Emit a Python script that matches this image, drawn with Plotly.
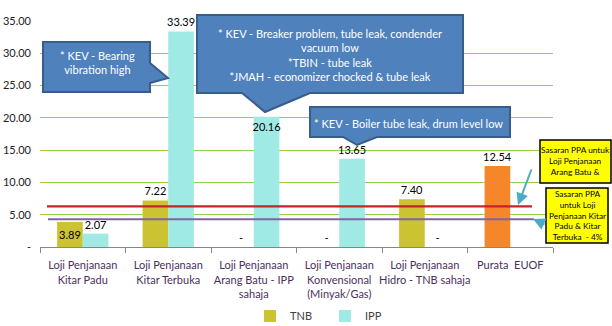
import plotly.graph_objects as go

categories = [
    "Loji Penjanaan<br>Kitar Padu",
    "Loji Penjanaan<br>Kitar Terbuka",
    "Loji Penjanaan<br>Arang Batu - IPP<br>sahaja",
    "Loji Penjanaan<br>Konvensional<br>(Minyak/Gas)",
    "Loji Penjanaan<br>Hidro - TNB sahaja",
    "Purata  EUOF",
]
tnb_values = [3.89, 7.22, 0.0, 0.0, 7.40, 12.54]
ipp_values = [2.07, 33.39, 20.16, 13.65, 0.0, None]
target_values = [6.3, 4.3]          # red (Arang Batu), purple (Kitar Padu & Kitar Terbuka)
y_tick_values = [0, 5, 10, 15, 20, 25, 30, 35]

FONT = "Lato, Carlito, Calibri, sans-serif"
TNB_COL = "#CBC331"
IPP_COL = "#A0EAE6"
AVG_COL = "#F5862A"

def lab(v):
    if v is None:
        return ""
    return "-" if v == 0 else f"{v:.2f}"

W, H = 612, 326
L, R, T, B = 40, 59, 21, 79
PW, PH = W - L - R, H - T - B

def px(x):
    return (x - L) / PW

def py(y):
    return (H - B - y) / PH

def path(pts):
    return "M " + " L ".join(f"{px(x):.4f},{py(y):.4f}" for x, y in pts) + " Z"

tnb_colors = [TNB_COL] * (len(categories) - 1) + [AVG_COL]

fig = go.Figure()
fig.add_trace(go.Bar(
    name="TNB", x=categories, y=tnb_values,
    marker=dict(color=tnb_colors, line=dict(width=0)),
    text=[lab(v) for v in tnb_values],
    textposition=["inside", "outside", "outside", "outside", "outside", "outside"],
    insidetextanchor="middle", constraintext="none", textangle=0,
    textfont=dict(family=FONT, size=11, color="#000000"),
    cliponaxis=False,
))
fig.add_trace(go.Bar(
    name="IPP", x=categories, y=ipp_values,
    marker=dict(color=IPP_COL, line=dict(width=0)),
    text=[lab(v) for v in ipp_values],
    textposition=["outside", "outside", "inside", "outside", "outside", "outside"],
    insidetextanchor="end", constraintext="none", textangle=0,
    textfont=dict(family=FONT, size=11, color="#000000"),
    cliponaxis=False,
))

shapes = []
shapes.append(dict(type="line", xref="paper", yref="y", x0=px(47), x1=px(532),
                   y0=target_values[0], y1=target_values[0],
                   line=dict(color="#C4232A", width=2.2), layer="above"))
shapes.append(dict(type="line", xref="paper", yref="y", x0=px(48), x1=px(534),
                   y0=target_values[1], y1=target_values[1],
                   line=dict(color="#8064A2", width=2.2), layer="above"))

callout = dict(type="path", xref="paper", yref="paper", fillcolor="#4F81BD",
               line=dict(color="#385D8A", width=2), layer="above")
shapes.append(dict(callout, path=path([(43, 42), (150, 42), (150, 63), (168, 78),
                                      (150, 83), (150, 92), (43, 92)])))
shapes.append(dict(callout, path=path([(197, 15), (463, 15), (463, 93), (310, 93),
                                      (265, 112), (242, 93), (197, 93)])))
shapes.append(dict(callout, path=path([(310, 107), (510, 107), (510, 137), (377, 137),
                                      (357, 145), (343, 137), (310, 137)])))

ybox = dict(type="rect", xref="paper", yref="paper", fillcolor="#FFFF00",
            line=dict(color="#000000", width=1.5), layer="above")
shapes.append(dict(ybox, x0=px(540), x1=px(611), y0=py(183), y1=py(140)))
shapes.append(dict(ybox, x0=px(546), x1=px(608), y0=py(243), y1=py(188)))

annotations = []
base = dict(xref="paper", yref="paper", showarrow=False, xanchor="center",
            yanchor="middle", align="center")
wt = dict(family=FONT, size=11, color="#FFFFFF")
annotations.append(dict(base, x=px(97), y=py(63), font=wt,
                        text="* KEV - Bearing<br>vibration high"))
annotations.append(dict(base, x=px(330), y=py(55), font=wt,
                        text="* KEV - Breaker problem, tube leak, condender<br>vacuum low<br>"
                             "*TBIN - tube leak<br>*JMAH - economizer chocked &amp; tube leak"))
annotations.append(dict(base, x=px(408), y=py(123), font=wt,
                        text="* KEV - Boiler tube leak, drum level low"))

annotations.append(dict(base, x=px(575.5), y=py(161), font=dict(family=FONT, size=8.3, color="#000000"),
                        text="Sasaran PPA untuk<br>Loji Penjanaan<br>Arang Batu &amp;"))
annotations.append(dict(base, x=px(577), y=py(215), font=dict(family=FONT, size=8.3, color="#000000"),
                        text="Sasaran PPA<br>untuk Loji<br>Penjanaan Kitar<br>Padu &amp; Kitar<br>Terbuka  - 4%"))

annotations.append(dict(xref="paper", yref="paper", x=px(518), y=py(205), ax=14, ay=-37,
                        text="", showarrow=True, arrowhead=2, arrowsize=1.2, arrowwidth=2,
                        arrowcolor="#4BACC6"))
annotations.append(dict(xref="paper", yref="paper", x=px(533), y=py(219), ax=13, ay=6,
                        text="", showarrow=True, arrowhead=2, arrowsize=1.2, arrowwidth=2,
                        arrowcolor="#4BACC6"))

fig.update_layout(
    width=W, height=H,
    margin=dict(l=L, r=R, t=T, b=B, pad=0, autoexpand=False),
    paper_bgcolor="#FFFFFF", plot_bgcolor="#FFFFFF",
    barmode="group", bargap=0.40, bargroupgap=0,
    font=dict(family=FONT, size=11, color="#222222"),
    showlegend=True,
    legend=dict(orientation="h", x=px(250), xanchor="left", y=py(316), yanchor="middle",
                font=dict(family=FONT, size=11, color="#404040"), itemwidth=30,
                entrywidth=30, tracegroupgap=0, bgcolor="rgba(0,0,0,0)"),
    shapes=shapes,
    annotations=annotations,
)
fig.update_xaxes(
    type="category", showline=True, linecolor="#868686", linewidth=1,
    ticks="outside", tickson="boundaries", ticklen=5, tickcolor="#868686",
    tickangle=0, tickfont=dict(family=FONT, size=11, color="#4B3060"),
    ticklabelstandoff=8,
    showgrid=False, fixedrange=True, automargin=False,
)
fig.update_yaxes(
    range=[0, 35], tickvals=y_tick_values,
    ticktext=["-" if v == 0 else f"{v:.2f}" for v in y_tick_values],
    showgrid=True, gridcolor="#92D050", gridwidth=1, zeroline=False,
    showline=False, ticks="", ticklabelstandoff=8,
    tickfont=dict(family=FONT, size=11, color="#222222"), fixedrange=True,
    automargin=False,
)

fig.write_html("out.html")
